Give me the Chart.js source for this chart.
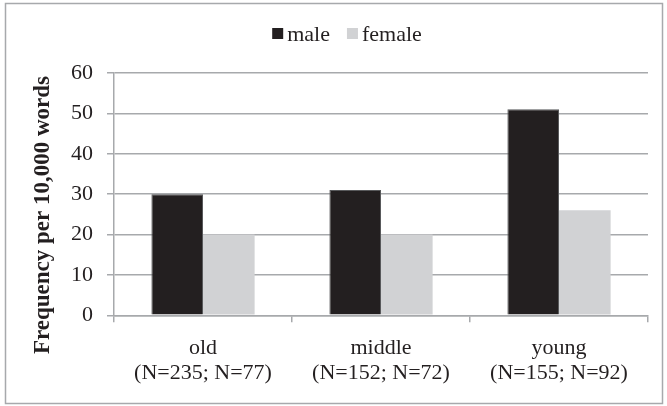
<!DOCTYPE html>
<html>
<head>
<meta charset="utf-8">
<script src="https://cdn.jsdelivr.net/npm/chart.js@4"></script>
<style>
  body { margin: 0; background: #fff; }
  #wrap { width: 667px; height: 406px; position: relative; }
</style>
</head>
<body>
<div id="wrap"><canvas id="mycanvas"></canvas></div>
<script>
var categories = [["old", "(N=235; N=77)"], ["middle", "(N=152; N=72)"], ["young", "(N=155; N=92)"]];
var maleValues = [30, 31, 51];
var femaleValues = [20, 20, 26];
var yTicks = [0, 10, 20, 30, 40, 50, 60];
var yTitle = 'Frequency per 10,000 words';

var serif = "'Liberation Serif', 'Times New Roman', serif";

// frame, legend and the y title are drawn by hand to get the Excel look
var extras = {
  id: 'extras',
  beforeDraw: function(chart) {
    var c = chart.ctx;
    c.save();
    c.fillStyle = '#fff';
    c.fillRect(0, 0, chart.width, chart.height);
    c.strokeStyle = '#a7a9ac';
    c.lineWidth = 1.5;
    c.strokeRect(5.5, 3.5, 657, 400);
    c.restore();
  },
  afterDraw: function(chart) {
    var c = chart.ctx;
    c.save();
    // legend
    c.font = '22px ' + serif;
    c.textBaseline = 'alphabetic';
    var box = 11, gap = 4, between = 17;
    var sets = chart.data.datasets;
    var total = 0;
    sets.forEach(function(ds, i) {
      total += box + gap + c.measureText(ds.label).width;
      if (i < sets.length - 1) total += between;
    });
    var x = 347 - total / 2;
    sets.forEach(function(ds) {
      c.fillStyle = ds.backgroundColor;
      c.fillRect(x, 28, box, box);
      x += box + gap;
      c.fillStyle = '#231f20';
      c.fillText(ds.label, x, 41);
      x += c.measureText(ds.label).width + between;
    });
    // y axis title
    c.translate(43, 215);
    c.rotate(-Math.PI / 2);
    c.font = 'bold 23px ' + serif;
    c.textAlign = 'center';
    c.textBaseline = 'middle';
    c.fillStyle = '#231f20';
    c.fillText(yTitle, 0, 0);
    c.restore();
  }
};

var ctx = document.getElementById('mycanvas');
new Chart(ctx, {
  type: 'bar',
  data: {
    labels: categories,
    datasets: [
      {
        label: 'male',
        data: maleValues,
        backgroundColor: '#231f20',
        borderColor: '#58595b',
        borderWidth: 1
      },
      {
        label: 'female',
        data: femaleValues,
        backgroundColor: '#d1d2d4',
        borderWidth: 0
      }
    ]
  },
  options: {
    responsive: true,
    maintainAspectRatio: false,
    animation: false,
    categoryPercentage: 0.58,
    barPercentage: 1.0,
    layout: { padding: { top: 73, right: 19, bottom: 6, left: 57 } },
    plugins: {
      tooltip: { enabled: false },
      legend: { display: false }
    },
    scales: {
      x: {
        grid: {
          drawOnChartArea: false,
          color: '#a7a9ac',
          lineWidth: 1.5,
          tickLength: 7
        },
        border: { color: '#a7a9ac', width: 1.5 },
        ticks: {
          color: '#231f20',
          padding: 14,
          font: { family: serif, size: 22, lineHeight: 1.13 },
          maxRotation: 0
        }
      },
      y: {
        min: 0,
        max: 60,
        afterBuildTicks: function(axis) {
          axis.ticks = yTicks.map(function(v) { return { value: v }; });
        },
        grid: {
          color: '#a7a9ac',
          lineWidth: 1.5,
          tickLength: 7
        },
        border: { color: '#a7a9ac', width: 1.5 },
        ticks: {
          color: '#231f20',
          padding: 14,
          font: { family: serif, size: 22 }
        }
      }
    }
  },
  plugins: [extras]
});
</script>
</body>
</html>
